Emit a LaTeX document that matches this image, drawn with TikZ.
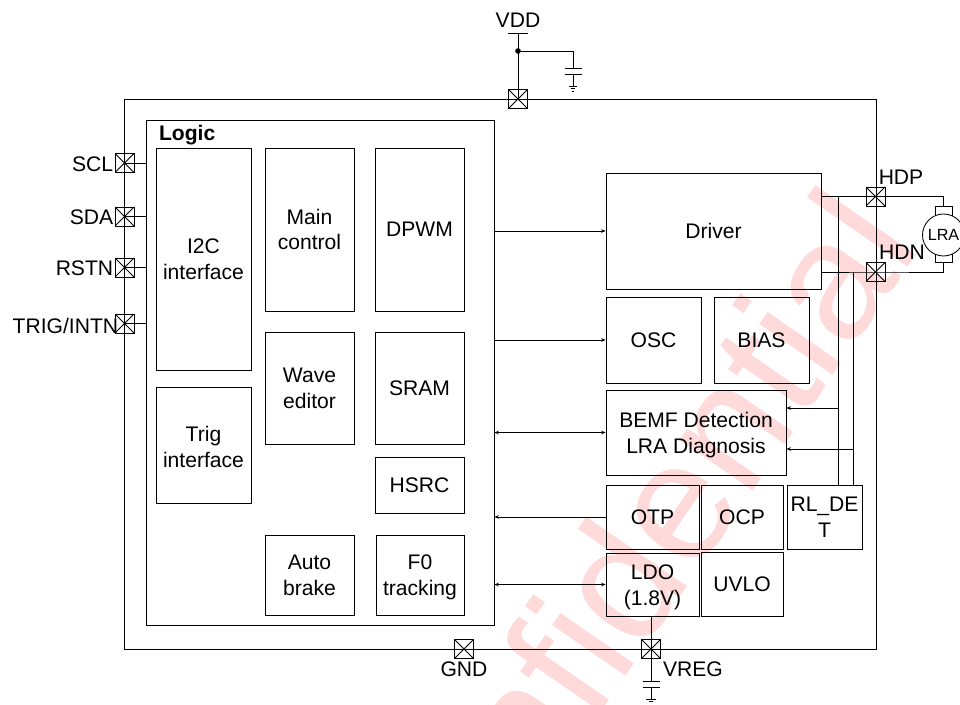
\documentclass[tikz,border=0pt]{standalone}
\usepackage{fontspec}
\setmainfont{Liberation Sans}
\usetikzlibrary{arrows.meta}
\newcommand{\lowline}{\rule{0pt}{14pt}}
\tikzset{
	>={Stealth[length=1.1mm,width=0.9mm]},
	every path/.style={line width=0.6pt},
	txt/.style={font=\fontsize{15}{18.3}\selectfont, inner sep=0pt, align=center},
	blk/.style={draw, txt},
	pad/.style={draw, minimum size=0.475cm, inner sep=0pt,
		path picture={\draw (path picture bounding box.north west) -- (path picture bounding box.south east);
			\draw (path picture bounding box.south west) -- (path picture bounding box.north east);}},
}
\definecolor{wmark}{HTML}{FFDADA}
\begin{document}
\begin{tikzpicture}
		\useasboundingbox (0,0) rectangle (24,17.6);
		\draw (23.075,11.475) node[anchor=base east, rotate=55.4, inner sep=0pt, text=wmark, font=\fontsize{120}{120}\selectfont] (wm) {Confidential};

		\draw (12.5,8.25) node[minimum width=18.8cm, minimum height=13.75cm, draw] (chip) {};
		\draw (8,8.2875) node[minimum width=8.7cm, minimum height=12.625cm, draw] (logic) {};
		\draw (logic.north west) ++(0.325,-0.325) node[anchor=west, txt, yshift=-0.075cm] (logiclabel) {\textbf{Logic}};

		\draw (5.0875,11.125) node[minimum width=2.375cm, minimum height=5.55cm, blk] (i2c) {I2C\\interface};
		\draw (5.0875,6.475) node[minimum width=2.375cm, minimum height=2.9cm, blk] (trig) {\lowline Trig\\interface};
		\draw (7.7375,11.8625) node[minimum width=2.225cm, minimum height=4.075cm, blk] (main) {Main\\control};
		\draw (7.7375,7.9) node[minimum width=2.225cm, minimum height=2.8cm, blk] (wave) {Wave\\editor};
		\draw (7.7375,3.225) node[minimum width=2.225cm, minimum height=2cm, blk] (auto) {Auto\\brake};
		\draw (10.4875,11.8625) node[minimum width=2.225cm, minimum height=4.075cm, blk] (dpwm) {DPWM};
		\draw (10.4875,7.9) node[minimum width=2.225cm, minimum height=2.8cm, blk] (sram) {SRAM};
		\draw (10.4875,5.475) node[minimum width=2.225cm, minimum height=1.4cm, blk] (hsrc) {HSRC};
		\draw (10.5,3.225) node[minimum width=2.2cm, minimum height=2cm, blk] (f0) {\lowline F0\\tracking};

		\draw (17.8375,11.825) node[minimum width=5.375cm, minimum height=2.9cm, blk] (driver) {Driver};
		\draw (16.3375,9.1) node[minimum width=2.375cm, minimum height=2.15cm, blk] (osc) {OSC};
		\draw (19.0375,9.1) node[minimum width=2.375cm, minimum height=2.15cm, blk] (bias) {BIAS};
		\draw (17.4,6.7875) node[minimum width=4.5cm, minimum height=2.125cm, blk] (bemf) {\lowline BEMF Detection\\LRA Diagnosis};
		\draw (16.3125,4.675) node[minimum width=2.325cm, minimum height=1.6cm, blk] (otp) {OTP};
		\draw (18.55,4.675) node[minimum width=2.05cm, minimum height=1.6cm, blk] (ocp) {OCP};
		\draw (20.6125,4.675) node[minimum width=1.875cm, minimum height=1.6cm, blk] (rldet) {RL\_DE\\T};
		\draw (16.3125,2.9875) node[minimum width=2.325cm, minimum height=1.575cm, blk] (ldo) {\lowline LDO\\(1.8V)};
		\draw (18.55,3) node[minimum width=2.05cm, minimum height=1.6cm, blk] (uvlo) {UVLO};

		\draw (12.95,15.125) node[pad] (vddpad) {};
		\draw (3.1125,13.525) node[pad] (sclpad) {};
		\draw (3.1125,12.1875) node[pad] (sdapad) {};
		\draw (3.1125,10.9125) node[pad] (rstnpad) {};
		\draw (3.1125,9.5125) node[pad] (trigpad) {};
		\draw (21.8875,12.6875) node[pad] (hdppad) {};
		\draw (21.8875,10.8) node[pad] (hdnpad) {};
		\draw (11.6,1.375) node[pad] (gndpad) {};
		\draw (16.275,1.375) node[pad] (vregpad) {};

		\draw (12.95,17.1) node[txt] (vdd) {VDD};
		\draw (sclpad.west) ++(-0.025,-0.03) node[left, txt] (scl) {SCL};
		\draw (sdapad.west) ++(-0.025,-0.03) node[left, txt] (sda) {SDA};
		\draw (rstnpad.west) ++(-0.025,-0.03) node[left, txt] (rstn) {RSTN};
		\draw (trigpad.west) ++(0.1,-0.05) node[left, txt] (trignt) {TRIG/INTN};
		\draw (22.525,13.175) node[txt] (hdp) {HDP};
		\draw (22.55,11.3) node[txt] (hdn) {HDN};
		\draw (11.6,0.875) node[txt] (gnd) {GND};
		\draw (17.325,0.875) node[txt] (vreg) {VREG};

		\draw (sclpad.center) -- (sclpad.center -| logic.west);
		\draw (sdapad.center) -- (sdapad.center -| logic.west);
		\draw (rstnpad.center) -- (rstnpad.center -| logic.west);
		\draw (trigpad.center) -- (trigpad.center -| logic.west);

		\draw [->] (logic.east |- driver.west) -- (driver.west);
		\draw [->] (logic.east |- osc.west) -- (osc.west);
		\draw [<->] (logic.east |- bemf.west) -- (bemf.west);
		\draw [->] (otp.west) -- (otp.west -| logic.east);
		\draw [<->] (logic.east |- ldo.west) -- (ldo.west);

		% motor
		\draw (23.5875,11.75) node[minimum width=0.425cm, minimum height=1.4cm, draw] (motor) {};
		\draw (23.5875,11.725) node[circle, minimum size=1.05cm, inner sep=0pt, draw, fill=white, font=\fontsize{11.5}{12}\selectfont] (lra) {LRA};

		\coordinate (hdpa) at (driver.east |- hdppad.center);
		\coordinate (hdna) at (driver.east |- hdnpad.center);
		\coordinate (sensea) at (20.95,12.6875);
		\coordinate (senseb) at (21.325,10.8);
		\draw (hdpa) -- (hdppad.center) -- (motor.north |- hdppad.center) -- (motor.north);
		\draw (hdna) -- (hdnpad.center) -- (motor.south |- hdnpad.center) -- (motor.south);
		\draw (sensea) -- (sensea |- rldet.north);
		\draw (senseb) -- (senseb |- rldet.north);
		\coordinate (bemfa) at (sensea |- 0,7.4);
		\coordinate (bemfb) at (senseb |- 0,6.375);
		\draw [->] (bemfa) -- (bemfa -| bemf.east);
		\draw [->] (bemfb) -- (bemfb -| bemf.east);

		% vdd side
		\coordinate (vddbar) at (12.95,16.775);
		\coordinate (vdddot) at (12.95,16.325);
		\coordinate (vddturn) at (14.325,16.325);
		\coordinate (vddplate) at (14.325,15.9);
		\coordinate (vddplateb) at (14.325,15.75);
		\coordinate (vddgnd) at (14.325,15.44);
		\draw (vddbar) ++(-0.25,0) -- ++(0.5,0);
		\draw (vddbar) -- (vddpad.center);
		\fill (vdddot) circle (0.07);
		\draw (vdddot) -- (vddturn) -- (vddplate);
		\draw (vddplateb) -- (vddgnd);
		\draw (vddplate) ++(-0.2125,0) -- ++(0.425,0);
		\draw (vddplateb) ++(-0.2125,0) -- ++(0.425,0);
		\draw (vddgnd) ++(-0.1,0) -- ++(0.2,0);
		\draw (vddgnd) ++(-0.06,-0.06) -- ++(0.12,0);
		\draw (vddgnd) ++(-0.025,-0.12) -- ++(0.05,0);

		% vreg side
		\coordinate (vregplate) at (16.275,0.575);
		\coordinate (vregplateb) at (16.275,0.425);
		\coordinate (vreggnd) at (16.275,0.125);
		\draw (vregpad.center |- ldo.south) -- (vregplate);
		\draw (vregplateb) -- (vreggnd);
		\draw (vregplate) ++(-0.2125,0) -- ++(0.425,0);
		\draw (vregplateb) ++(-0.2125,0) -- ++(0.425,0);
		\draw (vreggnd) ++(-0.125,0) -- ++(0.25,0);
		\draw (vreggnd) ++(-0.06,-0.07) -- ++(0.12,0);
	\end{tikzpicture}
\end{document}
